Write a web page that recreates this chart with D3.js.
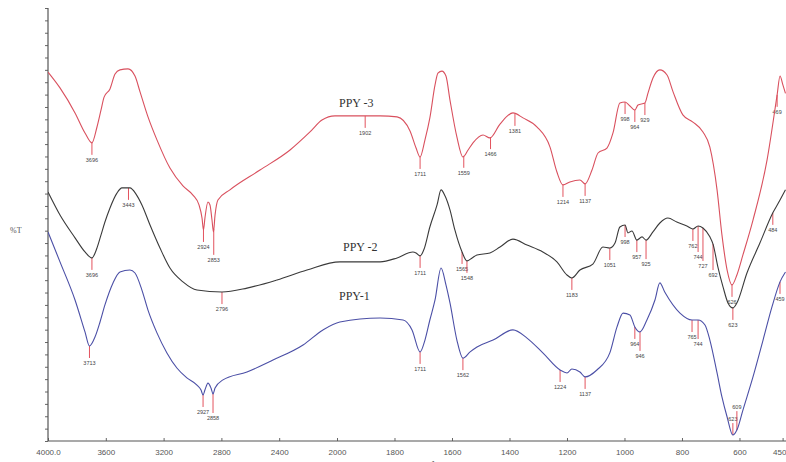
<!DOCTYPE html>
<html>
<head>
<meta charset="utf-8">
<script src="https://cdn.jsdelivr.net/npm/d3@7/dist/d3.min.js"></script>
<style>
  body { margin: 0; background: #fff; }
  svg { display: block; }
</style>
</head>
<body>
<svg id="chart" width="786" height="462"></svg>
<script>
// Wavenumber axis (cm-1), scale changes at 2000
const wnTicks = [4000, 3600, 3200, 2800, 2400, 2000, 1800, 1600, 1400, 1200, 1000, 800, 600, 450];
const wnTickLabels = ["4000.0", "3600", "3200", "2800", "2400", "2000", "1800", "1600", "1400", "1200", "1000", "800", "600", "450.0"];

// PPY-3 spectrum (offset %T)
const ppy3Wn = [4000, 3917, 3813, 3744, 3696, 3661, 3633, 3612, 3571, 3536, 3502, 3446, 3398, 3363, 3308, 3246, 3156, 3066, 2997, 2955, 2934, 2924, 2914, 2893, 2879, 2865, 2855, 2844, 2824, 2741, 2533, 2325, 2187, 2104, 2014, 1850, 1791, 1746, 1725, 1711, 1694, 1677, 1659, 1649, 1635, 1621, 1607, 1583, 1562, 1544, 1527, 1492, 1468, 1433, 1388, 1353, 1304, 1259, 1235, 1214, 1190, 1155, 1137, 1113, 1092, 1061, 1040, 1016, 998, 981, 964, 953, 929, 918, 901, 877, 852, 831, 797, 762, 727, 703, 678, 661, 643, 626, 609, 588, 553, 504, 469, 459, 449, 440];
const ppy3T = [149.1, 142.7, 132.6, 124.5, 120.5, 126.9, 133.8, 139.0, 142.3, 148.3, 150.0, 150.4, 147.5, 141.1, 131.0, 121.7, 110.3, 103.1, 99.4, 95.4, 90.1, 85.3, 90.1, 96.6, 95.4, 89.3, 84.5, 91.3, 97.4, 101.5, 109.5, 117.6, 124.9, 129.7, 131.4, 131.4, 131.0, 125.3, 118.4, 114.8, 121.7, 130.6, 143.9, 148.7, 149.5, 147.5, 137.8, 122.9, 114.8, 117.6, 120.5, 123.7, 122.5, 128.1, 132.6, 130.6, 126.9, 118.8, 108.7, 103.5, 104.7, 105.5, 103.9, 109.5, 116.4, 118.4, 124.5, 136.6, 137.0, 135.4, 133.8, 135.8, 136.6, 140.7, 146.7, 150.0, 147.9, 141.1, 131.8, 128.9, 124.9, 118.8, 101.5, 83.3, 69.1, 63.1, 67.1, 75.2, 89.3, 113.6, 139.9, 147.5, 143.9, 140.5];

// PPY-2 spectrum (offset %T)
const ppy2Wn = [4000, 3917, 3813, 3744, 3696, 3661, 3633, 3606, 3571, 3523, 3488, 3433, 3391, 3350, 3294, 3225, 3156, 3066, 2969, 2796, 2623, 2415, 2208, 1990, 1850, 1791, 1736, 1725, 1711, 1697, 1677, 1652, 1638, 1624, 1607, 1590, 1565, 1548, 1530, 1513, 1468, 1433, 1388, 1339, 1284, 1235, 1200, 1183, 1155, 1110, 1075, 1051, 1033, 1016, 998, 988, 974, 957, 939, 925, 901, 877, 849, 818, 783, 762, 744, 727, 703, 692, 675, 657, 640, 623, 609, 574, 529, 484, 459, 440];
const ppy2T = [100.6, 91.3, 82.1, 76.4, 74.0, 78.0, 83.3, 88.5, 94.2, 100.2, 102.3, 102.3, 99.8, 95.4, 87.3, 78.0, 69.9, 64.3, 61.0, 60.2, 61.8, 65.1, 69.1, 72.4, 72.4, 74.0, 76.4, 76.0, 74.8, 77.6, 86.5, 95.4, 101.5, 99.0, 93.4, 85.3, 76.4, 72.8, 74.0, 75.2, 76.0, 78.4, 81.6, 79.2, 76.4, 72.4, 67.1, 65.9, 69.1, 71.5, 78.4, 78.0, 80.0, 86.5, 87.3, 84.1, 84.9, 81.2, 82.5, 81.2, 84.5, 88.1, 90.1, 88.5, 86.9, 85.7, 86.9, 86.1, 82.5, 79.6, 70.3, 62.2, 55.8, 53.8, 55.8, 67.9, 80.0, 92.2, 97.4, 101.5];

// PPY-1 spectrum (offset %T)
const ppy1Wn = [4000, 3917, 3813, 3744, 3713, 3675, 3640, 3606, 3550, 3502, 3433, 3398, 3350, 3308, 3246, 3177, 3108, 3039, 2969, 2941, 2927, 2914, 2893, 2872, 2858, 2844, 2789, 2623, 2443, 2235, 2097, 1990, 1850, 1770, 1739, 1711, 1694, 1677, 1659, 1638, 1621, 1607, 1583, 1562, 1537, 1513, 1457, 1388, 1339, 1284, 1224, 1200, 1183, 1155, 1137, 1096, 1051, 1026, 1005, 981, 964, 946, 922, 894, 877, 860, 807, 765, 744, 720, 703, 678, 661, 643, 623, 609, 588, 553, 518, 487, 459, 440];
const ppy1T = [84.5, 72.4, 57.0, 44.1, 38.4, 42.0, 48.1, 55.0, 63.9, 68.3, 69.1, 67.9, 61.0, 52.9, 43.7, 35.6, 29.5, 25.5, 22.6, 20.6, 18.6, 20.6, 23.4, 21.4, 19.0, 21.4, 24.7, 27.9, 32.7, 38.8, 44.9, 48.1, 49.7, 48.9, 44.9, 36.0, 40.8, 48.9, 57.0, 69.9, 63.1, 55.8, 40.8, 33.5, 36.0, 38.0, 40.8, 44.9, 41.6, 35.6, 28.7, 27.5, 29.1, 27.9, 25.9, 28.7, 35.6, 46.1, 51.7, 50.9, 46.1, 44.1, 48.9, 57.0, 63.9, 60.2, 51.7, 48.9, 48.9, 46.9, 40.8, 27.5, 17.8, 9.7, 2.4, 4.4, 12.5, 25.9, 40.8, 54.2, 64.3, 68.3];

// Picked peaks (cm-1)
const ppy3Peaks = [3696, 2924, 2853, 1902, 1711, 1559, 1466, 1381, 1214, 1137, 998, 964, 929, 626, 469];
const ppy2Peaks = [3696, 3443, 2796, 1711, 1565, 1548, 1183, 1051, 998, 957, 925, 762, 744, 727, 692, 623, 484];
const ppy1Peaks = [3713, 2927, 2858, 1711, 1562, 1224, 1137, 964, 946, 765, 744, 623, 609, 459];

const seriesNames = ["PPY -3", "PPY -2", "PPY-1"];

const svg = d3.select("#chart");
const x = d3.scaleLinear().domain([4000, 2000, 450]).range([48, 337, 782.6]);
const y = d3.scaleLinear().domain([0, 175]).range([441, 8]);

// Axes
const xAxis = d3.axisBottom(x)
  .tickValues(wnTicks)
  .tickFormat((d, i) => wnTickLabels[i])
  .tickSizeInner(-3).tickSizeOuter(0).tickPadding(8);
const gx = svg.append("g").attr("transform", "translate(0,441)").call(xAxis);
gx.select(".domain").remove();
gx.selectAll("line").attr("stroke", "#666");
gx.selectAll("text").attr("fill", "#555").style("font", "8px 'Liberation Sans', Arial, sans-serif");
svg.append("line").attr("x1", 48).attr("x2", 786).attr("y1", 441).attr("y2", 441)
  .attr("stroke", "#555").attr("stroke-width", 1.2);

const yAxis = d3.axisLeft(y).tickValues(d3.range(0, 176, 5)).tickSize(3).tickFormat("");
const gy = svg.append("g").attr("transform", "translate(48,0)").call(yAxis);
gy.select(".domain").remove();
gy.selectAll("line").attr("stroke", "#666");
svg.append("line").attr("x1", 48).attr("x2", 48).attr("y1", 8).attr("y2", 441)
  .attr("stroke", "#555").attr("stroke-width", 1.2);

svg.append("text").attr("x", 10).attr("y", 233).text("%T")
  .attr("fill", "#555").style("font", "8px 'Liberation Serif', serif");
svg.append("text").attr("x", 418).attr("y", 466).text("cm-1")
  .attr("fill", "#555").style("font", "8px 'Liberation Sans', sans-serif");

// Spectra
const series = [
  { wn: ppy3Wn, t: ppy3T, peaks: ppy3Peaks, color: "#d9505e" },
  { wn: ppy2Wn, t: ppy2T, peaks: ppy2Peaks, color: "#3a3a3a" },
  { wn: ppy1Wn, t: ppy1T, peaks: ppy1Peaks, color: "#4b4fa6" }
];

svg.append("defs").append("clipPath").attr("id", "plot")
  .append("rect").attr("x", 48).attr("y", 0).attr("width", 740).attr("height", 441);

const line = d3.line().x(d => x(d[0])).y(d => y(d[1])).curve(d3.curveMonotoneX);

function valueAt(s, w) {
  for (let i = 0; i < s.wn.length - 1; i++) {
    const a = s.wn[i], b = s.wn[i + 1];
    if (w <= a && w >= b) {
      const f = (a - w) / (a - b);
      return s.t[i] + f * (s.t[i + 1] - s.t[i]);
    }
  }
  return s.t[s.t.length - 1];
}

// keeps peak labels from sitting on top of each other
const placed = [];
function collides(bx, by) {
  return placed.some(p => Math.abs(p[0] - bx) < 11 && Math.abs(p[1] - by) < 6);
}

series.forEach(s => {
  const pts = s.wn.map((w, i) => [w, s.t[i]]);
  const g = svg.append("g");
  s.peaks.forEach(p => {
    const px = x(p), py = y(valueAt(s, p));
    let dir = py + 20 > 434 ? -1 : 1;
    let len = 12;
    let ly = py + dir * (len + 7) - (dir < 0 ? 0 : 0);
    while (collides(px, ly)) { len += 7; ly = py + dir * (len + 7); }
    placed.push([px, ly]);
    g.append("line").attr("x1", px).attr("x2", px).attr("y1", py).attr("y2", py + dir * len)
      .attr("stroke", "#e0404c").attr("stroke-width", 0.9);
    g.append("text").attr("x", Math.min(px, 780)).attr("y", dir > 0 ? ly : ly + 5)
      .attr("text-anchor", "middle")
      .text(p).attr("fill", "#444").style("font", "5.5px 'Liberation Sans', sans-serif");
  });
  svg.append("path").datum(pts).attr("d", line).attr("clip-path", "url(#plot)")
    .attr("fill", "none").attr("stroke", s.color).attr("stroke-width", 1.1);
});

// Sample names
const namePos = [[339, 107], [343, 251], [339, 300]];
seriesNames.forEach((n, i) => {
  svg.append("text").attr("x", namePos[i][0]).attr("y", namePos[i][1]).text(n)
    .attr("fill", "#333").style("font", "12px 'Liberation Serif', 'Times New Roman', serif");
});
</script>
</body>
</html>
